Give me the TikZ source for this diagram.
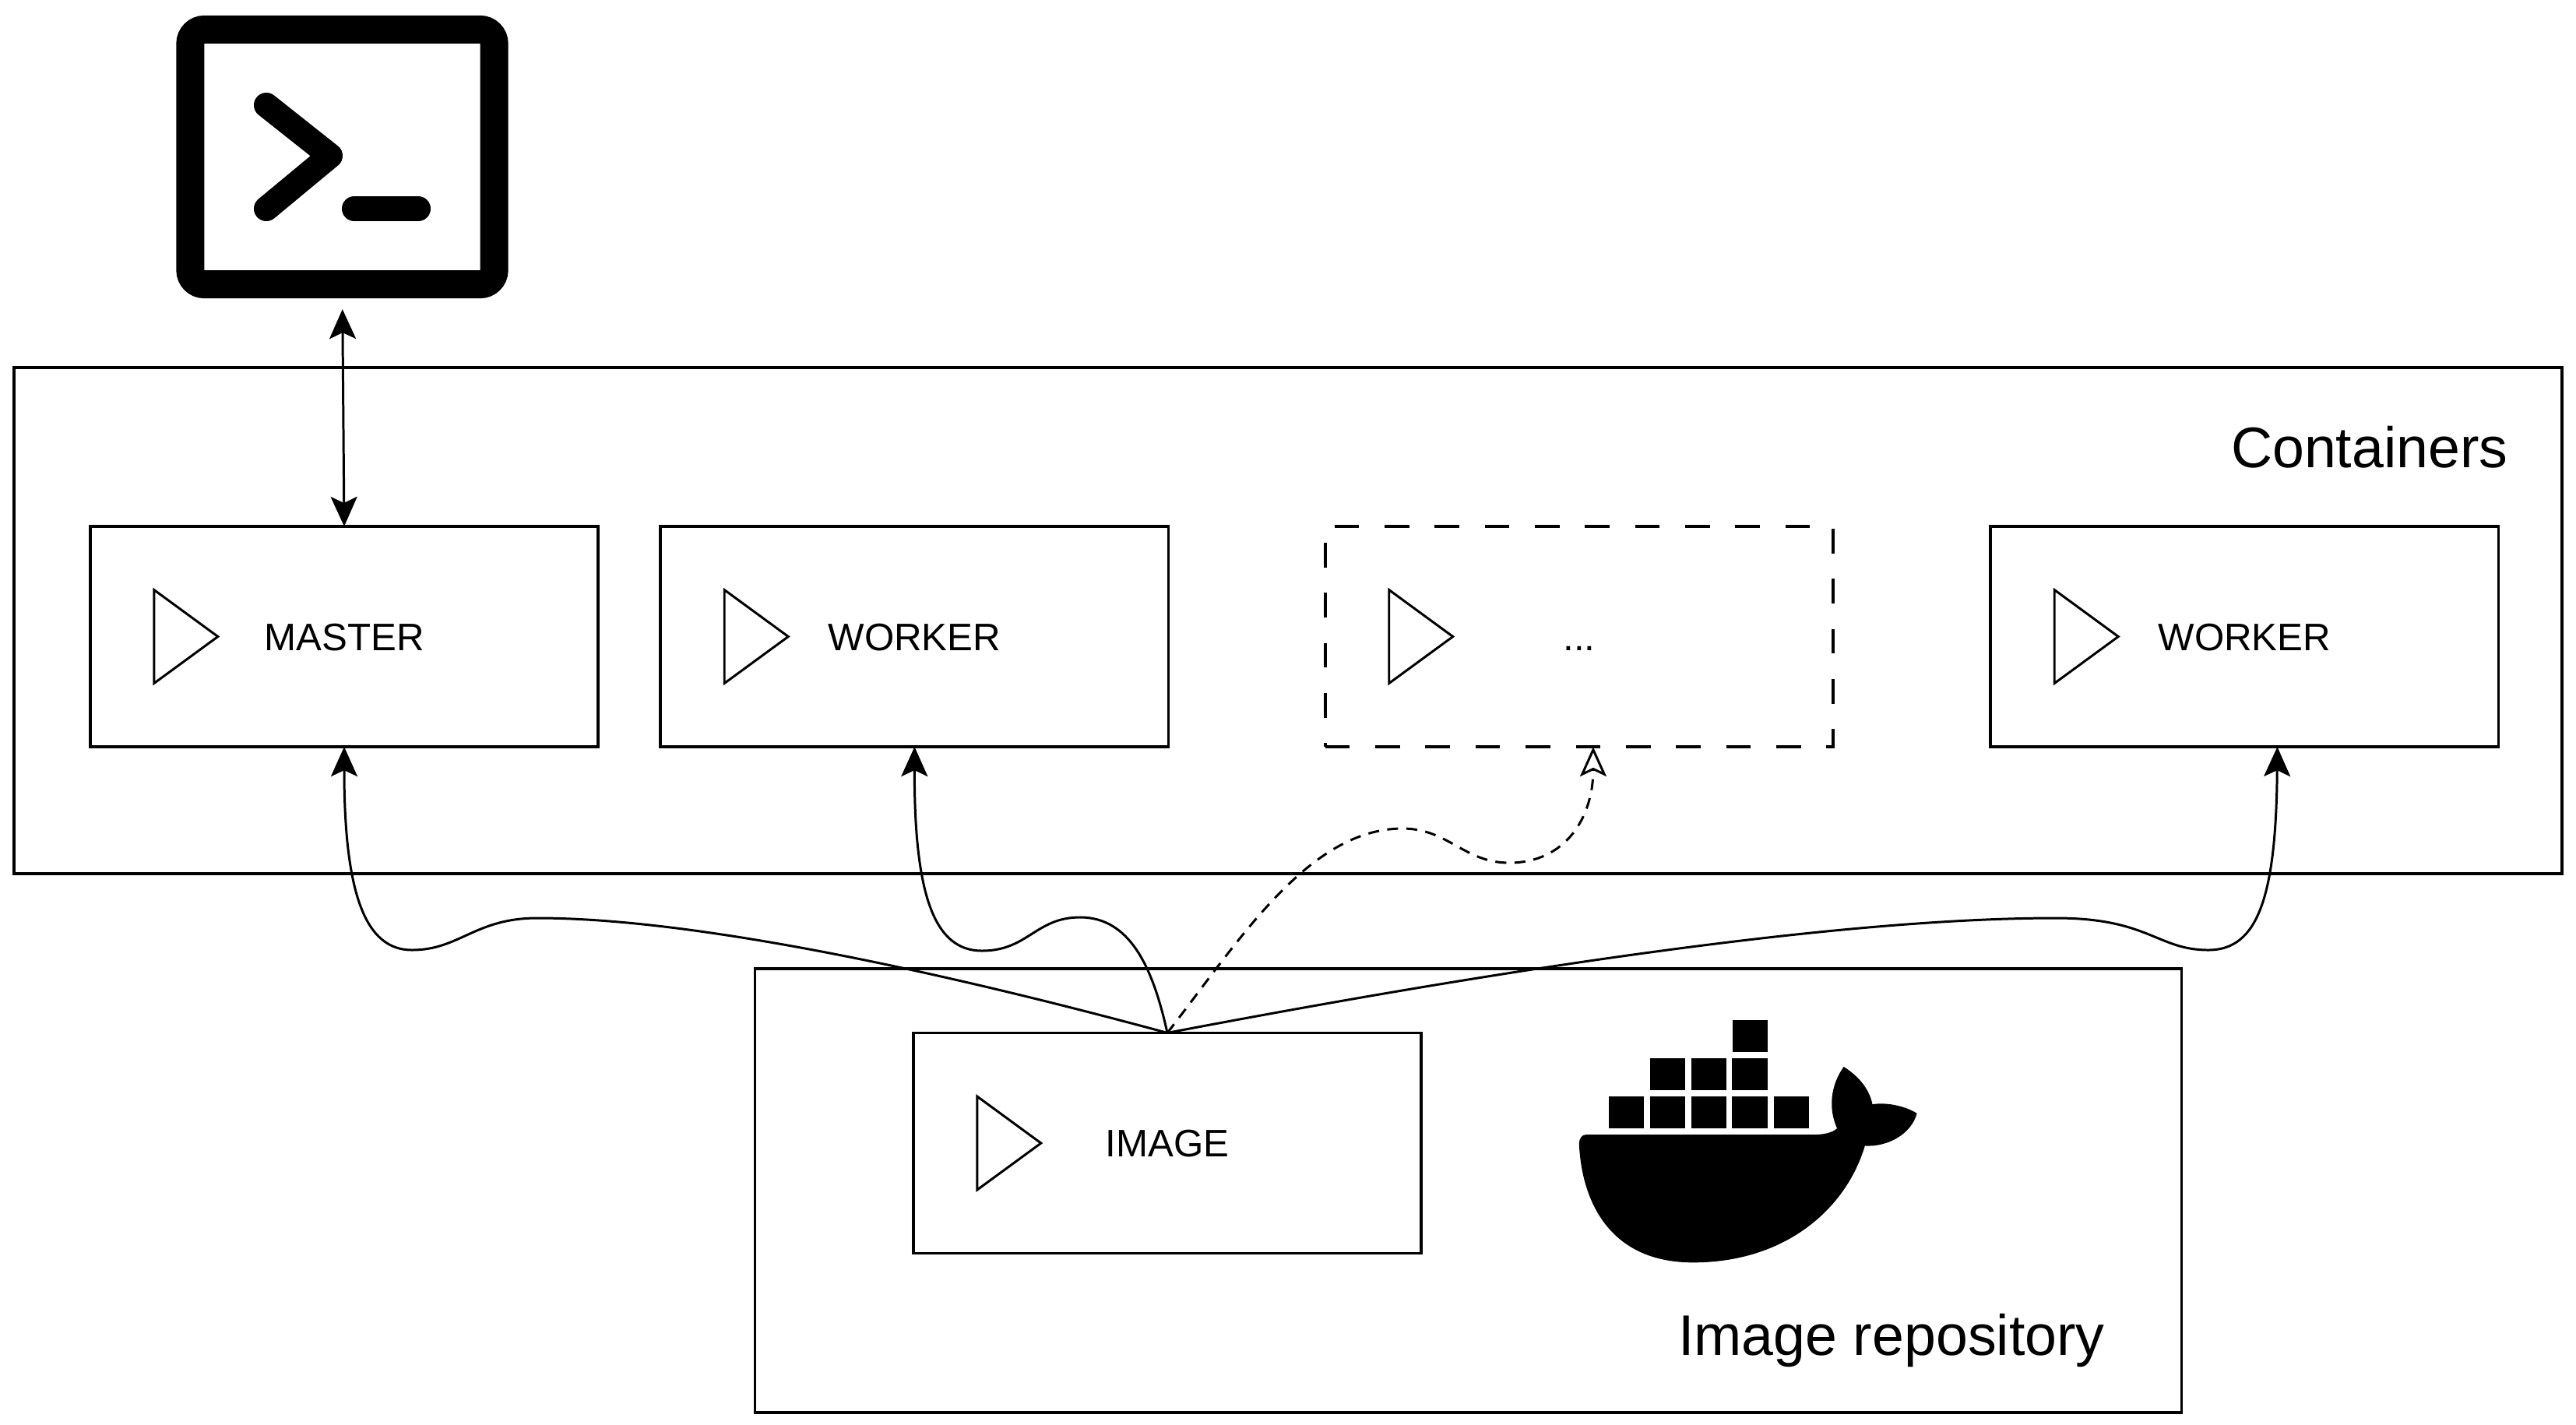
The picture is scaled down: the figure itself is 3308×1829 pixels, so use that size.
\documentclass[tikz,border=0pt]{standalone}
\usepackage{fontspec}
\setmainfont{Liberation Sans}
\usetikzlibrary{arrows.meta,positioning}
\newcommand\smalltext{\fontsize{14}{18}\selectfont}
\newcommand\bigtext{\fontsize{20.9}{25}\selectfont}

\tikzset{
  box/.style={draw,rectangle,outer sep=0pt,inner sep=0pt,minimum width=6.52cm,minimum height=2.83cm,
              text height=.354cm,text depth=0pt,font=\smalltext,line width=1.05pt},
  frame/.style={draw,rectangle,outer sep=0pt,inner sep=0pt,line width=1.05pt},
  playmark/.style={line join=miter},
  flow/.style={-{Stealth[length=.38cm,width=.34cm,inset=.08cm]}},
  maybe/.style={-{Stealth[open,length=.38cm,width=.34cm,inset=.08cm]},dash pattern=on 4pt off 3pt},
}

\begin{document}
\begin{tikzpicture}[x=.01cm,y=-.01cm,node distance=7.32cm,on grid,line width=.85pt]
   \useasboundingbox (0,0) rectangle (3308,1829);
   \node[frame,minimum width=32.70cm,minimum height=6.5cm] (containers) at (1654,797) {};
   \node[frame,minimum width=18.31cm,minimum height=5.70cm] (repo) at (1885.5,1529) {};
   \node[box] (master) at (442,817.5) {MASTER};
   \node[box] (worker_1) [right=of master] {WORKER};
   \node[box,dash pattern=on 9pt off 9.3pt] (dots) [right=8.53cm of worker_1] {...};
   \node[box] (worker_2) [right=8.54cm of dots] {WORKER};
   \node[box] (image) at (1499,1468) {IMAGE};
   \node[anchor=east,font=\bigtext,inner sep=0pt] (containers_label) at (3222,574) {Containers};
   \node[font=\bigtext,inner sep=0pt] (repo_label) at (2429,1721) {Image repository};
   \node[draw,rectangle,line width=.36cm,rounded corners=.18cm,outer sep=0pt,inner sep=0pt,
         minimum width=3.90cm,minimum height=3.27cm] (terminal) at (439.5,201.5) {};

   % play marks
   \foreach \b in {master,worker_1,dots,worker_2,image}
      \draw[playmark] ([shift={(82,-60)}]\b.west) -- ([shift={(164,0)}]\b.west)
                   -- ([shift={(82,60)}]\b.west) -- cycle;

   % prompt
   \draw[line width=.32cm,line cap=round,line join=round] (342,135) -- (424,200) -- (342,268);
   \draw[line width=.32cm,line cap=round] (455,268) -- (537,268);

   % whale
   \begin{scope}[shift={(1960,1260)},xscale=.357,yscale=.333]
      \foreach \x/\w in {297/125,445/125,595/125,740/128,890/126}
         \fill (\x,445) rectangle ++(\w,123);
      \foreach \x/\w in {445/125,595/125,740/128}
         \fill (\x,297) rectangle ++(\w,123);
      \fill (743,150) rectangle ++(125,123);
      \fill (215,592) -- (1030,592) .. controls (1070,592) and (1100,585) .. (1118,568)
         .. controls (1085,490) and (1095,400) .. (1142,330)
         .. controls (1200,370) and (1235,420) .. (1245,475)
         .. controls (1300,465) and (1370,485) .. (1405,510)
         .. controls (1385,590) and (1300,640) .. (1218,635)
         .. controls (1150,880) and (930,1085) .. (600,1085)
         .. controls (300,1085) and (200,850) .. (190,630)
         .. controls (190,605) and (200,592) .. (215,592) -- cycle;
   \end{scope}

   \draw[{Stealth[length=.38cm,width=.34cm,inset=.08cm]}-{Stealth[length=.38cm,width=.34cm,inset=.08cm]},shorten <=.32cm]
      (terminal.south) -- (master.north);
   \draw[flow] (image.north) .. controls (1180,1240) and (880,1179) .. (690,1179)
      .. controls (610,1179) and (590,1220) .. (529,1220)
      .. controls (470,1220) and (442,1150) .. (master.south);
   \draw[flow] (image.north) .. controls (1480,1240) and (1450,1178) .. (1387,1178)
      .. controls (1330,1178) and (1320,1221) .. (1261,1221)
      .. controls (1200,1221) and (1174,1150) .. (worker_1.south);
   \draw[maybe] (image.north) .. controls (1590,1210) and (1680,1064) .. (1801,1064)
      .. controls (1860,1064) and (1880,1108) .. (1938,1108)
      .. controls (2010,1108) and (2046,1050) .. ([xshift=.18cm]dots.south);
   \draw[flow] (image.north) .. controls (1900,1250) and (2350,1179) .. (2640,1179)
      .. controls (2760,1179) and (2770,1220) .. (2836,1220)
      .. controls (2900,1220) and (2923,1150) .. ([xshift=.42cm]worker_2.south);
\end{tikzpicture}
\end{document}
